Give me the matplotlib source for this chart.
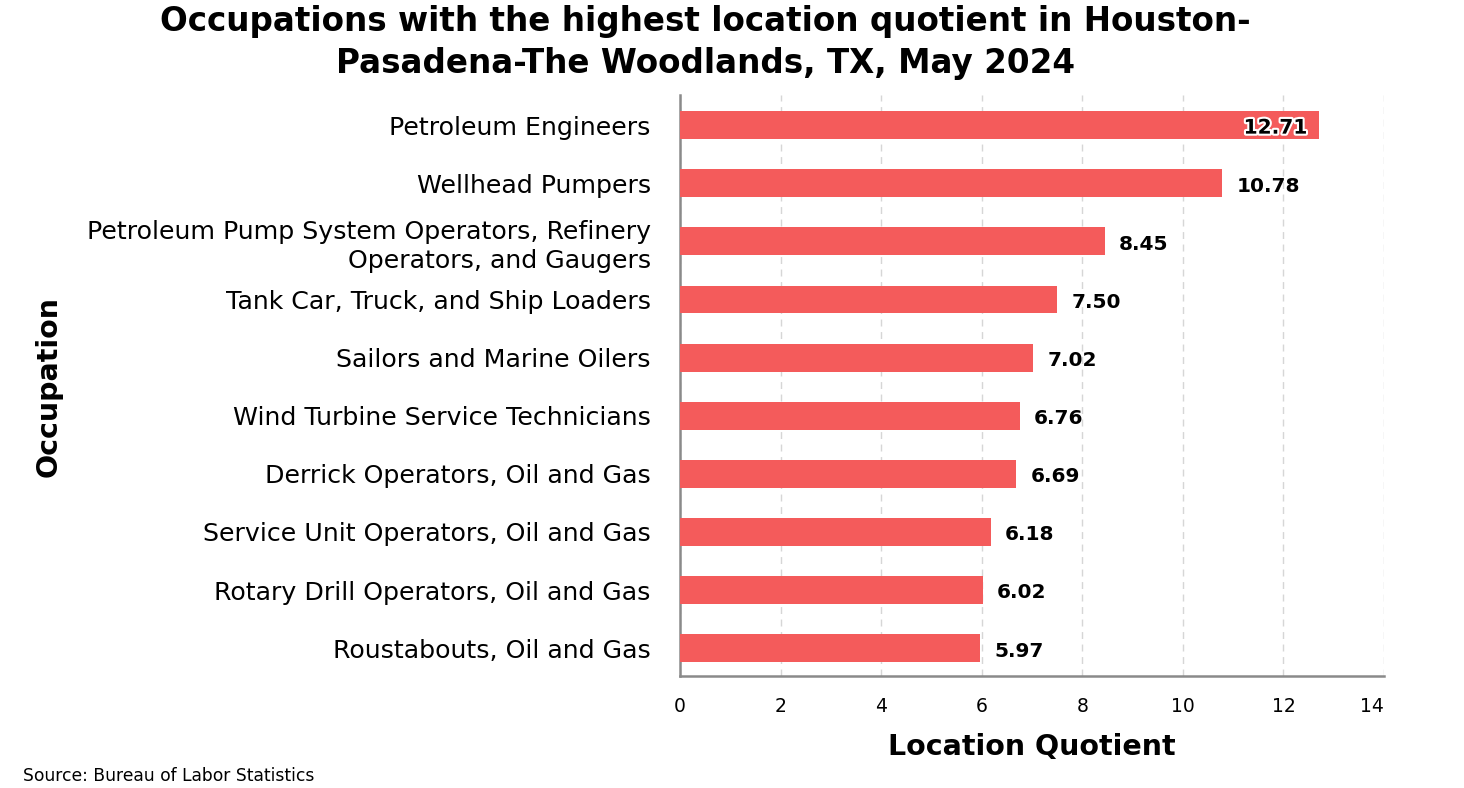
import matplotlib
matplotlib.use("Agg")
import matplotlib.pyplot as plt
import matplotlib.patheffects as pe

occupations = [
    "Petroleum Engineers",
    "Wellhead Pumpers",
    "Petroleum Pump System Operators, Refinery\nOperators, and Gaugers",
    "Tank Car, Truck, and Ship Loaders",
    "Sailors and Marine Oilers",
    "Wind Turbine Service Technicians",
    "Derrick Operators, Oil and Gas",
    "Service Unit Operators, Oil and Gas",
    "Rotary Drill Operators, Oil and Gas",
    "Roustabouts, Oil and Gas",
]
lq = [12.71, 10.78, 8.45, 7.50, 7.02, 6.76, 6.69, 6.18, 6.02, 5.97]
x_ticks = [0, 2, 4, 6, 8, 10, 12, 14]

BAR = "#F45B5B"
SPINE = "#8a8a8a"
plt.rcParams["font.family"] = "DejaVu Sans"


def main():
    fig = plt.figure(figsize=(14.64, 7.88), dpi=100)
    fig.patch.set_facecolor("white")
    ax = fig.add_axes([0.4645, 0.1421, 0.4809, 0.7373])

    y = list(range(len(occupations)))
    ax.barh(y, lq, height=0.48, color=BAR, zorder=3)
    ax.set_ylim(len(occupations) - 0.52, -0.52)
    ax.set_xlim(0, 14)

    ax.set_yticks(y)
    ax.set_yticklabels(occupations, fontsize=18.2, linespacing=1.28)
    ax.set_xticks(x_ticks)
    ax.set_xticklabels([str(t) for t in x_ticks], fontsize=13.5)
    ax.get_xticklabels()[-1].set_ha("right")
    ax.tick_params(axis="y", length=0, pad=21)
    ax.tick_params(axis="x", length=0, pad=15)

    ax.grid(axis="x", color="#d6d6d6", linestyle=(0, (5, 4)), lw=1, zorder=0)
    for s in ["top", "right"]:
        ax.spines[s].set_visible(False)
    for s in ["left", "bottom"]:
        ax.spines[s].set_color(SPINE)
        ax.spines[s].set_linewidth(1.8)

    # value labels: the longest bar gets its label inside
    for i, v in enumerate(lq):
        if v > 12:
            ax.text(v - 0.24, i + 0.05, f"{v:.2f}", ha="right", va="center",
                    fontsize=14.5, fontweight="bold", color="black", zorder=4,
                    path_effects=[pe.withStroke(linewidth=3, foreground="white")])
        else:
            ax.text(v + 0.28, i + 0.05, f"{v:.2f}", ha="left", va="center",
                    fontsize=14.5, fontweight="bold", color="black", zorder=4)

    ax.set_xlabel("Location Quotient", fontsize=20.5, fontweight="bold",
                  labelpad=12)
    fig.text(0.033, 0.51, "Occupation", rotation=90, ha="center", va="center",
             fontsize=20.5, fontweight="bold")

    fig.text(0.4816, 0.946,
             "Occupations with the highest location quotient in Houston-\n"
             "Pasadena-The Woodlands, TX, May 2024",
             ha="center", va="center", fontsize=23.5, fontweight="bold",
             linespacing=1.33)
    fig.text(0.016, 0.004, "Source: Bureau of Labor Statistics",
             ha="left", va="bottom", fontsize=12.3)

    fig.savefig("out.png", dpi=100, facecolor="white")
    plt.close(fig)


if __name__ == "__main__":
    main()
